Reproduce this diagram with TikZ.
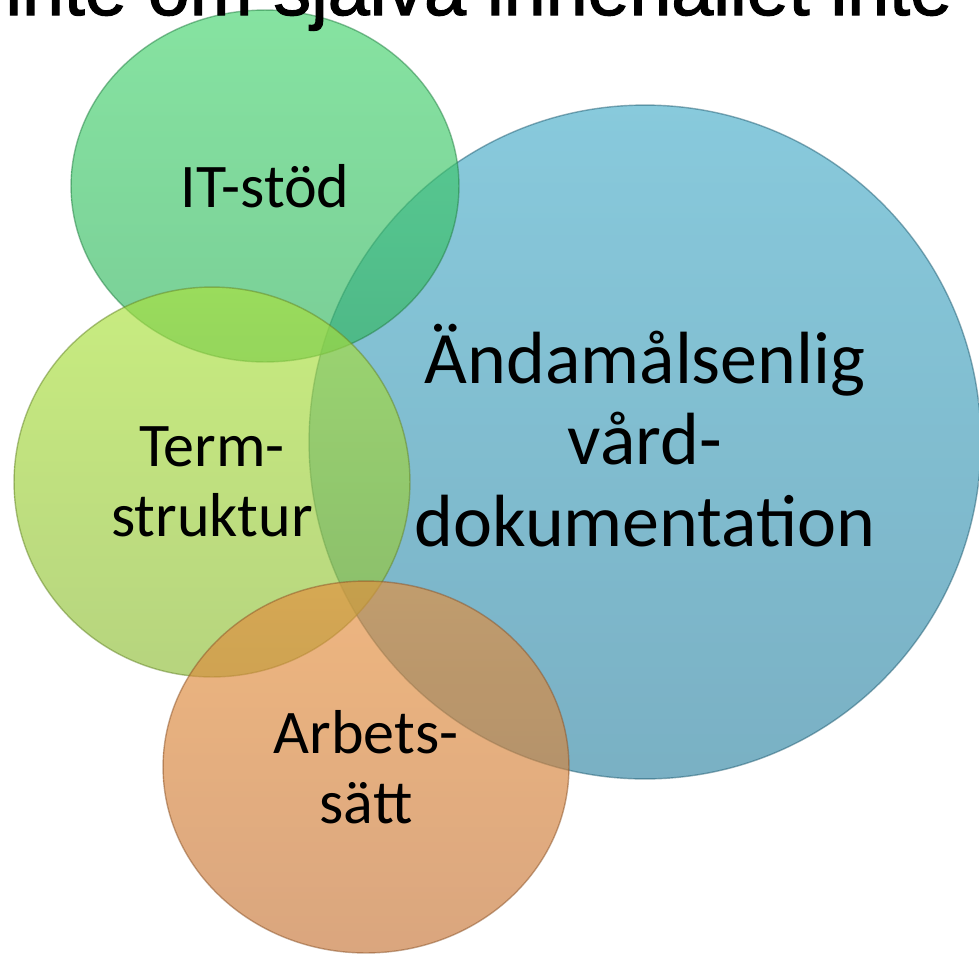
\documentclass[tikz,border=0pt]{standalone}
\usepackage{fontspec}
\setmainfont{Carlito}
\newfontfamily\titlefont[FakeBold=1.6]{Liberation Sans}
\usetikzlibrary{shapes.geometric}

\definecolor{blueTop}{RGB}{72,173,201}
\definecolor{blueBot}{RGB}{50,134,164}
\definecolor{greenTop}{RGB}{69,212,110}
\definecolor{greenBot}{RGB}{50,180,95}
\definecolor{limeTop}{RGB}{171,226,60}
\definecolor{limeBot}{RGB}{143,189,57}
\definecolor{orangeTop}{RGB}{229,143,60}
\definecolor{orangeBot}{RGB}{198,118,57}

\begin{document}
\begin{tikzpicture}[
  x=0.02cm, y=-0.02cm,
  blob/.style={ellipse, inner sep=0pt, align=center, fill opacity=0.65, text opacity=1,
    draw opacity=0.5, line width=0.8pt},
  small/.style={font=\fontsize{35.3}{39.5}\selectfont},
  big/.style={font=\fontsize{42.1}{46.4}\selectfont},
]
\useasboundingbox (0,0) rectangle (979,954);
\clip (0,0) rectangle (979,954);

% Blue circle
\node[blob, big, top color=blueTop, bottom color=blueBot, draw=blueBot!70!black,
  minimum width=13.44cm, minimum height=13.48cm, text depth=0.28cm] (vard) at (645,442)
  {Ändamålsenlig\\vård-\\dokumentation};

% IT support
\node[blob, small, top color=greenTop, bottom color=greenBot, draw=greenBot!70!black,
  minimum width=7.76cm, minimum height=7.04cm] (it) at (265,186) {IT-stöd};

% Term structure
\node[blob, small, top color=limeTop, bottom color=limeBot, draw=limeBot!70!black,
  minimum width=7.92cm, minimum height=7.8cm] (term) at (212,482) {Term-\\struktur};

% Ways of working
\node[blob, small, top color=orangeTop, bottom color=orangeBot, draw=orangeBot!70!black,
  minimum width=8.12cm, minimum height=7.44cm] (arbete) at (366,767) {Arbets-\\sätt};

% Title, cut at the top
\node[anchor=base west, inner sep=0pt, font=\titlefont\fontsize{42.9}{48}\selectfont]
  (title) at (5,15) {inte om själva innehållet inte};
\end{tikzpicture}
\end{document}
